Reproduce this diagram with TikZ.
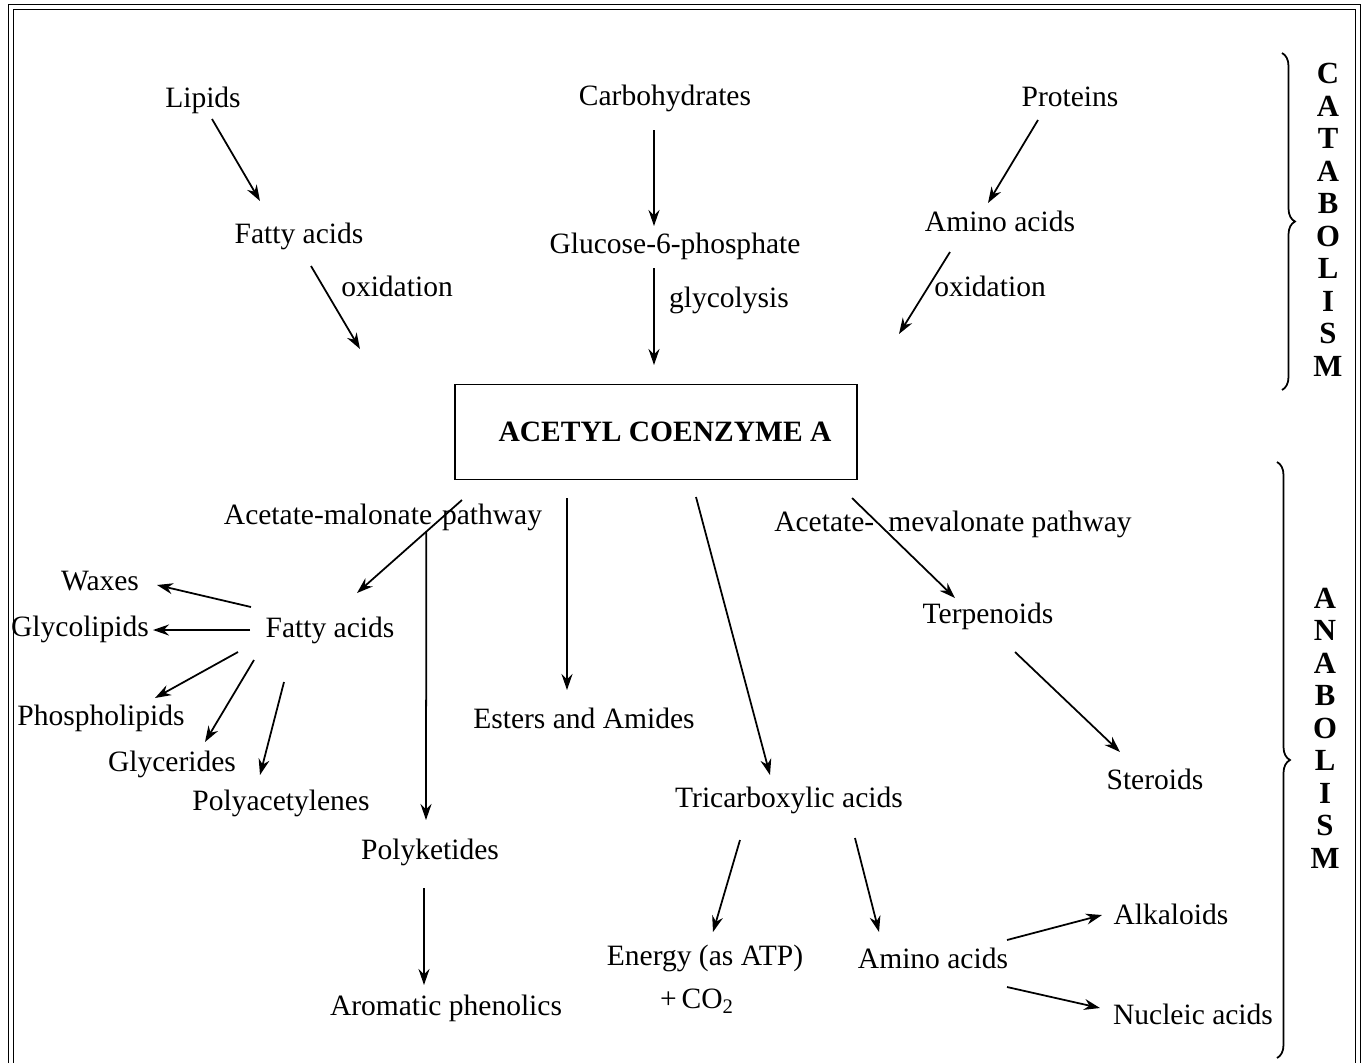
\documentclass[tikz,border=0pt]{standalone}
\usepackage{fontspec}
\setmainfont{Liberation Serif}
\usetikzlibrary{arrows.meta,calc,decorations.pathreplacing}

\begin{document}
\begin{tikzpicture}
  [x=.02cm,y=-.02cm,
   every node/.style={font=\fontsize{16.8}{19}\selectfont,inner sep=0pt},
   arr/.style={-{Stealth[length=.32cm,width=.22cm]},line width=1pt},
   side/.style={font=\fontsize{17.5}{18.5}\selectfont\bfseries,align=center},
   curly/.style={decorate,decoration={brace,amplitude=.26cm},line width=1pt}]
  \useasboundingbox (0,0) rectangle (1367,1063);
  % frame, open at the foot
  \draw[double,double distance=.07cm,line width=.8pt] (11,1063) |- (1358,7) -- (1358,1063);

  % catabolism
  \node (lip)  at (203,100) {Lipids};
  \node (carb) at (665,98)  {Carbohydrates};
  \node (prot) at (1070,97) {Proteins};
  \node (fa1)  at (299,236) {Fatty acids};
  \node (g6p)  at (675,246) {Glucose-6-phosphate};
  \node (aa1)  at (1000,221) {Amino acids};
  \node (ox1)  at (397,286) {oxidation};
  \node (gly)  at (729,300) {glycolysis};
  \node (ox2)  at (990,286) {oxidation};

  \node[draw,line width=1.1pt,minimum width=8.04cm,minimum height=1.9cm,
        font=\fontsize{16.8}{19}\selectfont\bfseries] (acetyl) at (656,432) {\hspace*{.36cm}ACETYL COENZYME A};

  % anabolism
  \node (mal)  at (383,517) {Acetate-malonate\hspace{.2cm}pathway};
  \node (mev)  at (953,524) {Acetate-\hspace{.28cm}mevalonate pathway};
  \node (wax)  at (100,581) {Waxes};
  \node (glp)  at (80,629)  {Glycolipids};
  \node (fa2)  at (330,630) {Fatty acids};
  \node (pho)  at (101,718) {Phospholipids};
  \node (glc)  at (172,764) {Glycerides};
  \node (pac)  at (281,803) {Polyacetylenes};
  \node (est)  at (584,718) {Esters and Amides};
  \node (pk)   at (430,852) {Polyketides};
  \node (aro)  at (446,1008) {Aromatic phenolics};
  \node (terp) at (988,616) {Terpenoids};
  \node (ster) at (1155,779) {Steroids};
  \node (tca)  at (789,800) {Tricarboxylic acids};
  \node (en)   at (705,958) {Energy (as ATP)};
  \node (co2)  at (697,1001) {+\,CO\textsubscript{2}};
  \node (aa2)  at (933,958) {Amino acids};
  \node (alk)  at (1171,914) {Alkaloids};
  \node (nuc)  at (1193,1014) {Nucleic acids};

  \foreach \a/\ax/\ay/\b/\bx/\by in {lip/9/19/fa1/-39/-35, carb/-11/32/g6p/-21/-20,
      prot/-32/23/aa1/-12/-18, fa1/12/30/acetyl/-296/-83, g6p/-21/22/acetyl/-2/-67,
      aa1/-50/31/acetyl/243/-98, acetyl/-89/66/est/-17/-28, acetyl/40/65/tca/-19/-25,
      acetyl/196/66/terp/-33/-18, terp/27/36/ster/-35/-27, pk/-6/36/aro/-22/-23,
      tca/-49/40/en/8/-26, tca/66/38/aa2/-54/-26, aa2/74/-18/alk/-69/1,
      aa2/74/29/nuc/-93/-6, fa2/-79/-23/wax/57/4, fa2/-80/0/glp/73/1,
      fa2/-92/22/pho/54/-20, fa2/-76/30/glc/33/-22, fa2/-46/52/pac/-21/-28}
    \draw[arr] ($(\a)+(\ax,\ay)$) -- ($(\b)+(\bx,\by)$);

  \draw[arr] ($(acetyl)+(-194,68)$) -- coordinate[pos=.34] (split) ($(fa2)+(27,-37)$);
  \draw[arr] (split) -- ($(pk)+(-4,-32)$);

  % side braces
  \draw[curly] (1282,53) -- (1282,390);
  \draw[curly] (1277,462) -- (1277,1058);
  \node[side] (cat) at (1328,220) {C\\A\\T\\A\\B\\O\\L\\I\\S\\M};
  \node[side] (ana) at (1325,728) {A\\N\\A\\B\\O\\L\\I\\S\\M};
\end{tikzpicture}
\end{document}
